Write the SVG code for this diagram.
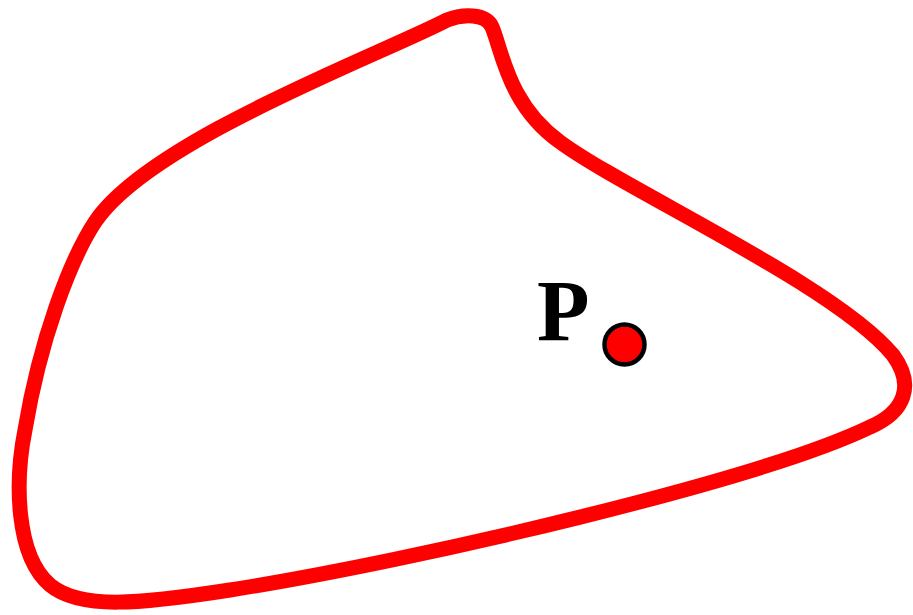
<svg xmlns="http://www.w3.org/2000/svg" width="913" height="615" viewBox="0 0 913 615">
<style>
.curve{fill:none;stroke:#ff0000;stroke-width:15;stroke-linejoin:round}
.pt{fill:#ff0000;stroke:#000;stroke-width:4.5}
.lbl{font-family:"Liberation Serif",serif;font-weight:bold;font-size:86px;fill:#000}
</style>
<rect width="913" height="615" fill="#fff"/>
<g id="region">
<path class="curve" d="M 447,20 C 462,14 486,13 492,27 C 502,50 508,105 560,142 C 625,190 835,285 893,355 C 915,385 905,412 870,427 C 760,480 420,560 230,590 C 140,604 80,610 50,585 C 15,555 15,480 25,430 C 40,340 70,260 95,222 C 150,140 380,55 447,20 Z"/>
</g>
<g id="P">
<circle class="pt" cx="624.5" cy="344.5" r="20"/>
<text class="lbl" x="537" y="340">P</text>
</g>
</svg>
